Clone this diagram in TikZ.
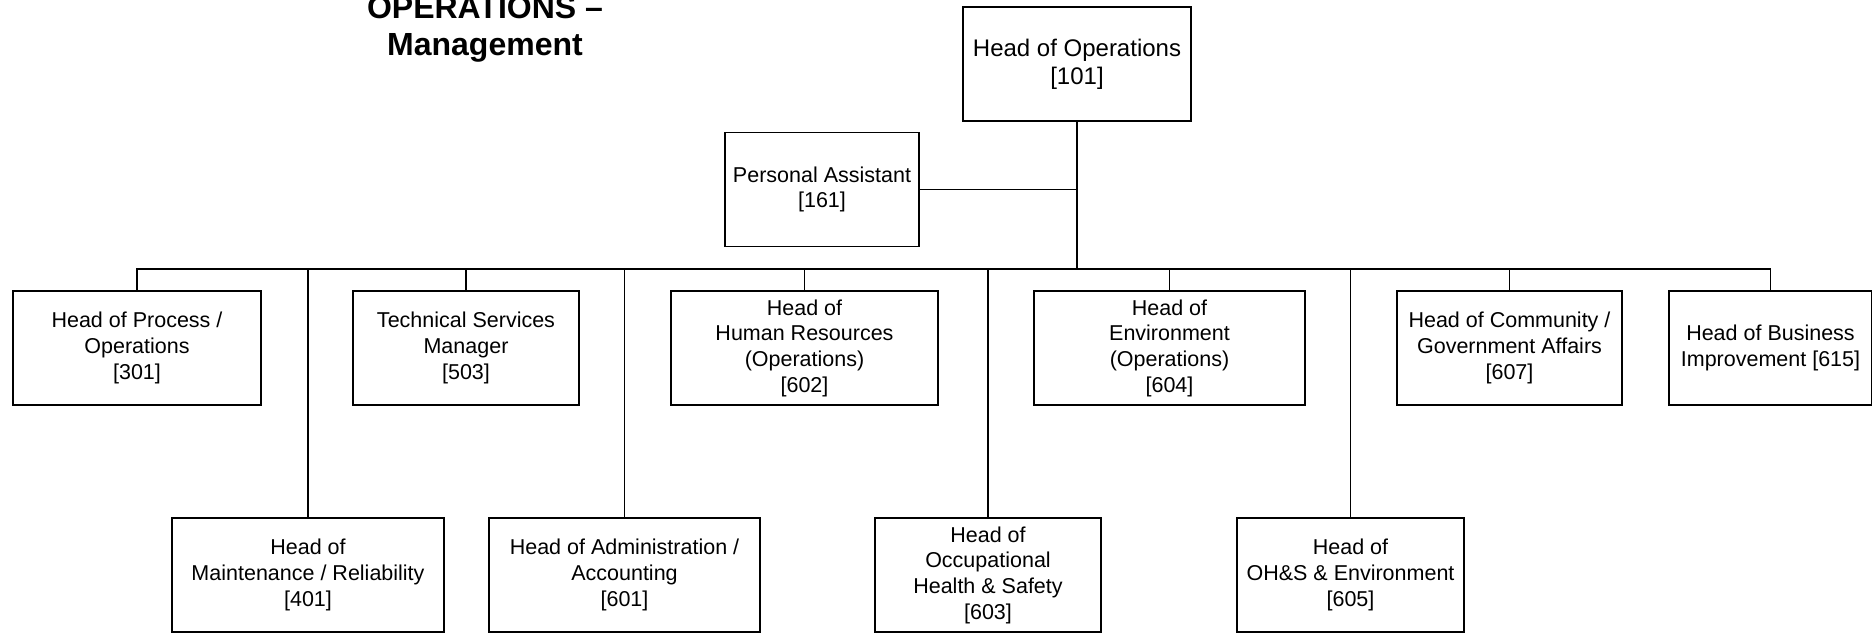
\documentclass[tikz,border=0pt]{standalone}
\usepackage{fontspec}
\setmainfont{Liberation Sans}
\usetikzlibrary{positioning}

\begin{document}
\begin{tikzpicture}[x=1pt,y=-1pt,
        post/.style={draw,line width=1.5pt,align=center,inner sep=0pt,minimum height=\boxHeight,font=\fontsize{21.5}{25.7}\selectfont},
        link/.style={line width=1.6pt}]

        % -----------
        % Parameters.
        % -----------

        % Constants.
        \pgfmathsetmacro{\boxHeight}{114}   % Height of every box.
        \pgfmathsetmacro{\yHead}{64}        % y-position of head box.
        \pgfmathsetmacro{\yAssist}{189.5}   % y-position of assistant box.
        \pgfmathsetmacro{\yBus}{269}        % y-position of bus line.
        \pgfmathsetmacro{\yRowOne}{348}     % y-position of 1st row.
        \pgfmathsetmacro{\yRowTwo}{575}     % y-position of 2nd row.

        % --------
        % Drawing.
        % --------

        % Frame.
        \useasboundingbox(0,0)rectangle(1872,633);

        % Title.
        \node[anchor=south,inner sep=0pt,align=center,font=\bfseries\fontsize{32}{37}\selectfont](title)at(485,62){OPERATIONS \textendash\\Management};

        % Head of Operations and assistant.
        \node[post,minimum width=228,font=\fontsize{24}{28}\selectfont](head)at(1077,\yHead){Head of Operations\\{[101]}};
        \node[post,minimum width=194](pa)at(822,\yAssist){Personal Assistant\\{[161]}};
        \coordinate(bus)at(0,\yBus);

        % First row.
        \node[post,minimum width=248](p301)at(137,\yRowOne){Head of Process /\\Operations\\{[301]}};
        \node[post,minimum width=226](p503)at(466,\yRowOne){Technical Services\\Manager\\{[503]}};
        \node[post,minimum width=267](p602)at(804.5,\yRowOne){Head of\\Human Resources\\(Operations)\\{[602]}};
        \node[post,minimum width=271](p604)at(1169.5,\yRowOne){Head of\\Environment\\(Operations)\\{[604]}};
        \node[post,minimum width=225](p607)at(1509.5,\yRowOne){Head of Community /\\Government Affairs\\{[607]}};
        \node[post,minimum width=203](p615)at(1770.5,\yRowOne){Head of Business\\Improvement [615]};

        % Second row.
        \node[post,minimum width=272](p401)at(308,\yRowTwo){Head of\\Maintenance / Reliability\\{[401]}};
        \node[post,minimum width=271](p601)at(624.5,\yRowTwo){Head of Administration /\\Accounting\\{[601]}};
        \node[post,minimum width=226](p603)at(988,\yRowTwo){Head of\\Occupational\\Health \& Safety\\{[603]}};
        \node[post,minimum width=227](p605)at(1350.5,\yRowTwo){Head of\\OH\&S \& Environment\\{[605]}};

        % Head to bus, assistant to head line.
        \draw[line width=2.5pt](head.south)--(head.south|-bus);
        \draw[link](pa.east)--(pa.east-|head.south);

        % Bus line.
        \draw[link,line cap=rect](p301.north|-bus)--(p615.north|-bus);

        % Drops to first row.
        \draw[link](p301.north)--(p301.north|-bus);
        \draw[link](p503.north)--(p503.north|-bus);
        \draw[link](p602.north)--(p602.north|-bus);
        \draw[link](p604.north)--(p604.north|-bus);
        \draw[link](p607.north)--(p607.north|-bus);
        \draw[link](p615.north)--(p615.north|-bus);

        % Drops to second row.
        \draw[link](p401.north)--(p401.north|-bus);
        \draw[link](p601.north)--(p601.north|-bus);
        \draw[link](p603.north)--(p603.north|-bus);
        \draw[link](p605.north)--(p605.north|-bus);

    \end{tikzpicture}
\end{document}
